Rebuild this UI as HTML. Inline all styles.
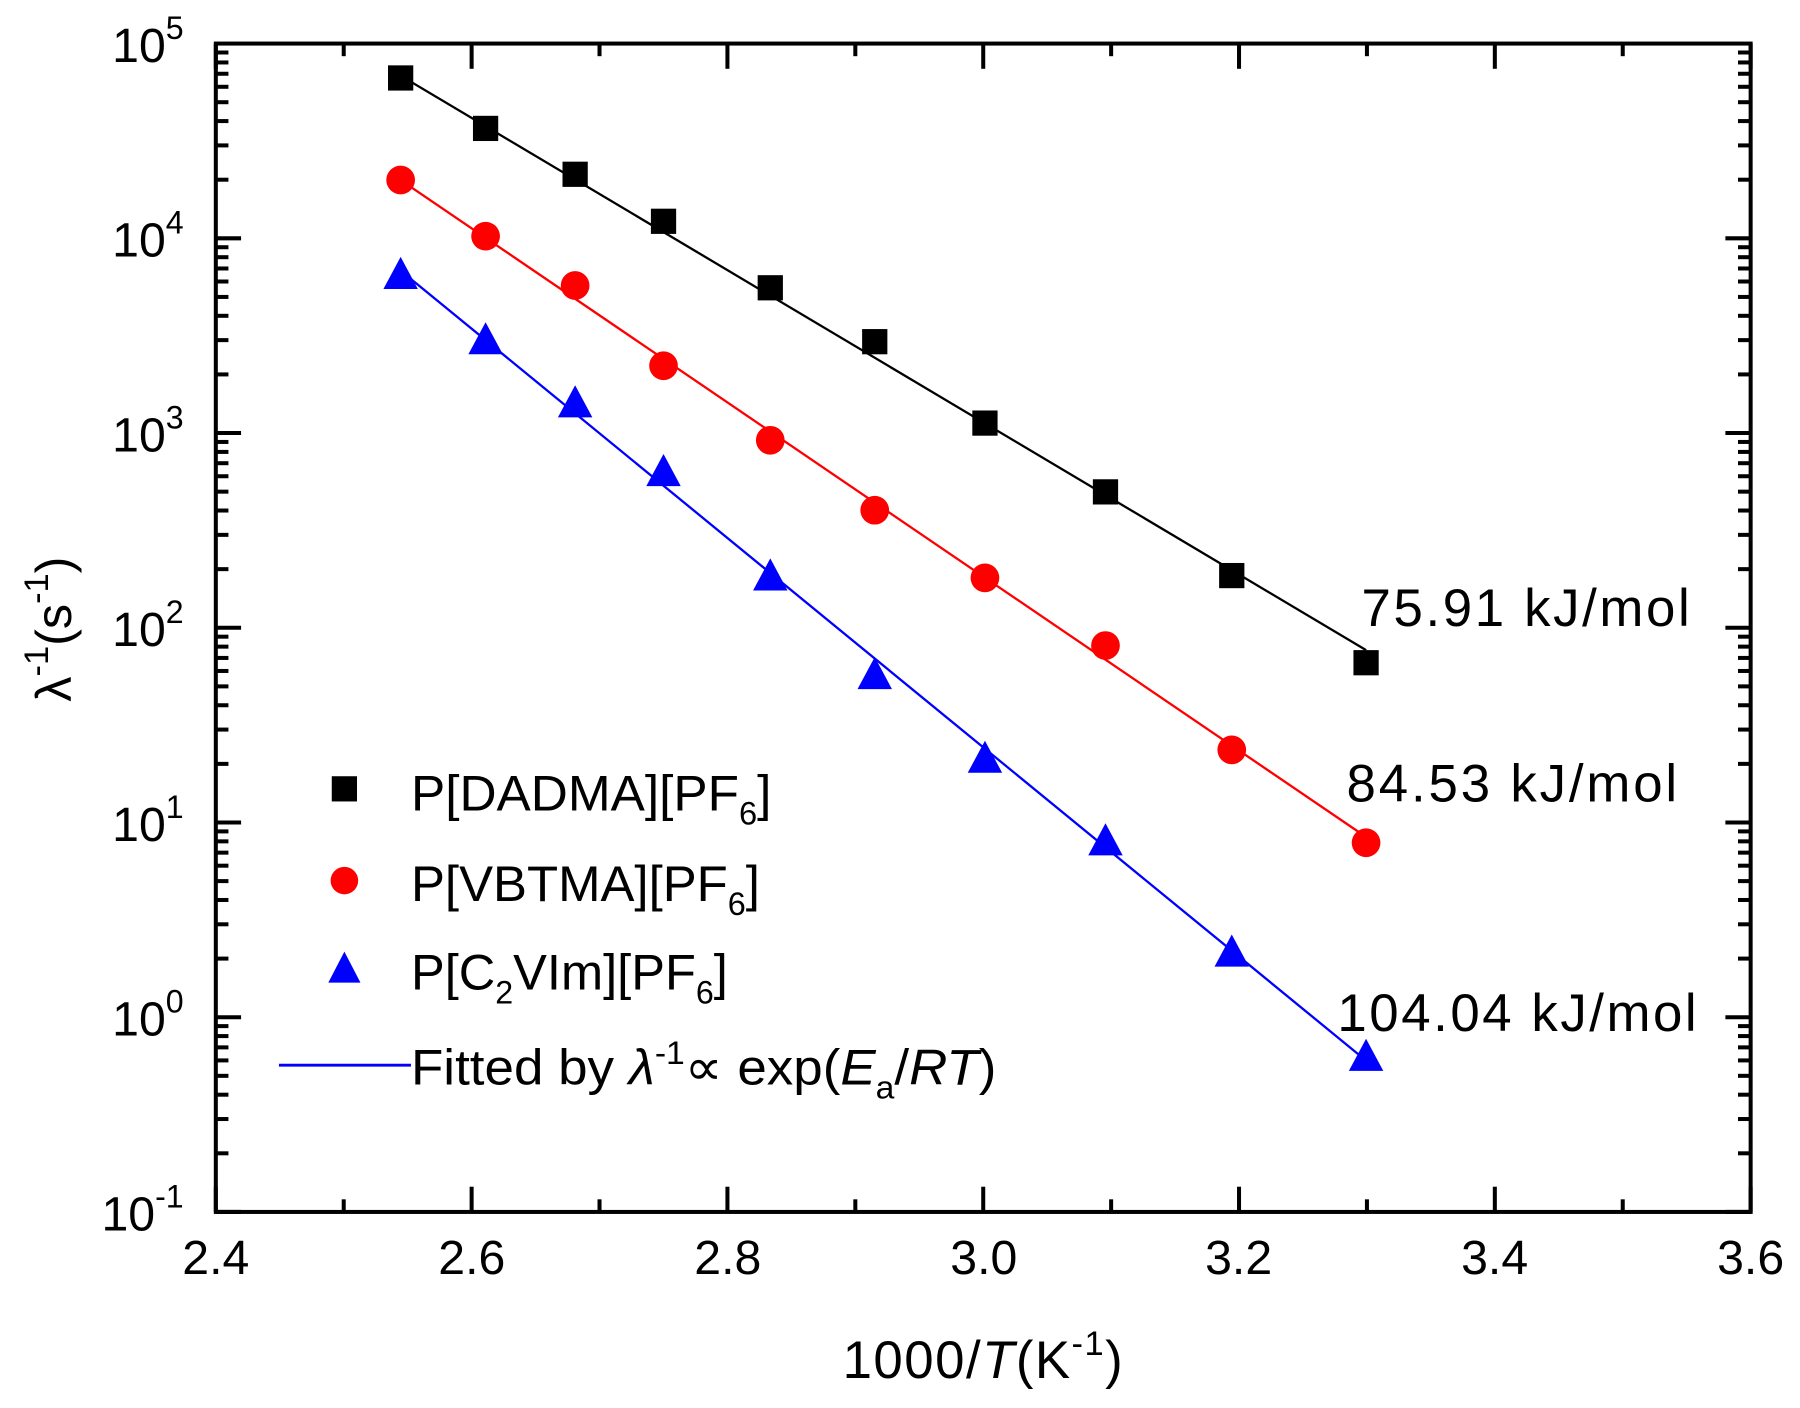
<!DOCTYPE html>
<html><head><meta charset="utf-8"><style>html,body{margin:0;padding:0;background:#fff}svg{display:block}</style></head>
<body>
<svg width="1800" height="1408" viewBox="0 0 1568 1228" preserveAspectRatio="none" xmlns="http://www.w3.org/2000/svg" font-family="Liberation Sans, sans-serif">
<rect width="1568" height="1228" fill="#fff"/>
<g stroke="#000" stroke-width="3.5" fill="none">
<rect x="188" y="38" width="1337" height="1019"/>
</g>
<g id="ticks" stroke="#000" stroke-width="3.5"></g>
<g font-size="42" text-anchor="middle">
<text x="188" y="1111">2.4</text><text x="411" y="1111">2.6</text><text x="634" y="1111">2.8</text><text x="857" y="1111">3.0</text><text x="1079" y="1111">3.2</text><text x="1302" y="1111">3.4</text><text x="1525" y="1111">3.6</text>
</g>
<g font-size="42" text-anchor="end" id="ylab"></g>
<text x="734" y="1202" font-size="46" textLength="244">1000/<tspan font-style="italic">T</tspan>(K<tspan font-size="30" dy="-20">-1</tspan><tspan dy="20">)</tspan></text>
<text transform="translate(62,612) rotate(-90)" font-size="44">λ<tspan font-size="30" dy="-20">-1</tspan><tspan dy="20">(s</tspan><tspan font-size="30" dy="-20">-1</tspan><tspan dy="20">)</tspan></text>
<g id="data"></g>
<g font-size="46">
<text x="1186" y="546" textLength="286">75.91 kJ/mol</text>
<text x="1173" y="699" textLength="288">84.53 kJ/mol</text>
<text x="1165" y="899" textLength="313">104.04 kJ/mol</text>
</g>
<g font-size="44">
<rect x="289" y="677" width="22" height="22" fill="#000"/>
<text x="358" y="707" textLength="314" lengthAdjust="spacingAndGlyphs">P[DADMA][PF<tspan font-size="28" dy="12">6</tspan><tspan dy="-12">]</tspan></text>
<circle cx="300" cy="768" r="12" fill="#f00"/>
<text x="358" y="786" textLength="304" lengthAdjust="spacingAndGlyphs">P[VBTMA][PF<tspan font-size="28" dy="12">6</tspan><tspan dy="-12">]</tspan></text>
<polygon points="300,830 314,857 286,857" fill="#00f"/>
<text x="358" y="863" textLength="276" lengthAdjust="spacingAndGlyphs">P[C<tspan font-size="28" dy="12">2</tspan><tspan dy="-12">VIm][PF</tspan><tspan font-size="28" dy="12">6</tspan><tspan dy="-12">]</tspan></text>
<line x1="243" y1="929" x2="358" y2="929" stroke="#00f" stroke-width="2.5"/>
<text x="358" y="946" textLength="510" lengthAdjust="spacingAndGlyphs">Fitted by <tspan font-style="italic">λ</tspan><tspan font-size="28" dy="-18">-1</tspan><tspan dy="18">∝ exp(</tspan><tspan font-style="italic">E</tspan><tspan font-size="28" dy="12">a</tspan><tspan dy="-12">/</tspan><tspan font-style="italic">RT</tspan>)</text>
</g>
<script>
var NS="http://www.w3.org/2000/svg";
function el(p,t,a){var e=document.createElementNS(NS,t);for(var k in a)e.setAttribute(k,a[k]);p.appendChild(e);return e;}
var tk=document.getElementById('ticks');
var L=188,R=1525,T=38,B=1057,dec=169.83;
for(var i=0;i<=12;i++){var x=L+i*(R-L)/12,len=i%2?11:22;
el(tk,'line',{x1:x,y1:B,x2:x,y2:B-len});el(tk,'line',{x1:x,y1:T,x2:x,y2:T+len});}
for(var d=0;d<6;d++){for(var m=1;m<=9;m++){var y=B-(d+Math.log10(m))*dec;var len=m==1?22:11;
el(tk,'line',{x1:L,y1:y,x2:L+len,y2:y});el(tk,'line',{x1:R,y1:y,x2:R-len,y2:y});}}
var yl=document.getElementById('ylab');
var ex=['-1','0','1','2','3','4','5'];
for(var d=0;d<=6;d++){var y=B-d*dec;var t=el(yl,'text',{x:160,y:y+16});
t.textContent='10';var s=el(t,'tspan',{'font-size':'28',dy:'-20'});s.textContent=ex[d];}
var X=[349,423,501,578,671,762,858,963,1073,1190];
var S=[{c:'#000',y:[68,112,152,193,251,298,369,429,502,578],f:[66,567],m:'s'},
{c:'#f00',y:[157,206,249,319,384,445,504,563,654,735],f:[157,730],m:'c'},
{c:'#00f',y:[240,297,352,412,503,589,662,734,831,922],f:[236,925],m:'t'}];
var g=document.getElementById('data');
S.forEach(function(s){el(g,'line',{x1:X[0],y1:s.f[0],x2:X[9],y2:s.f[1],stroke:s.c,'stroke-width':2});
X.forEach(function(x,i){var y=s.y[i];
if(s.m=='s')el(g,'rect',{x:x-11,y:y-11,width:22,height:22,fill:s.c});
else if(s.m=='c')el(g,'circle',{cx:x,cy:y,r:12.5,fill:s.c});
else el(g,'polygon',{points:(x)+','+(y-16)+' '+(x+15)+','+(y+12)+' '+(x-15)+','+(y+12),fill:s.c});});});
</script>
</svg>
</body></html>
